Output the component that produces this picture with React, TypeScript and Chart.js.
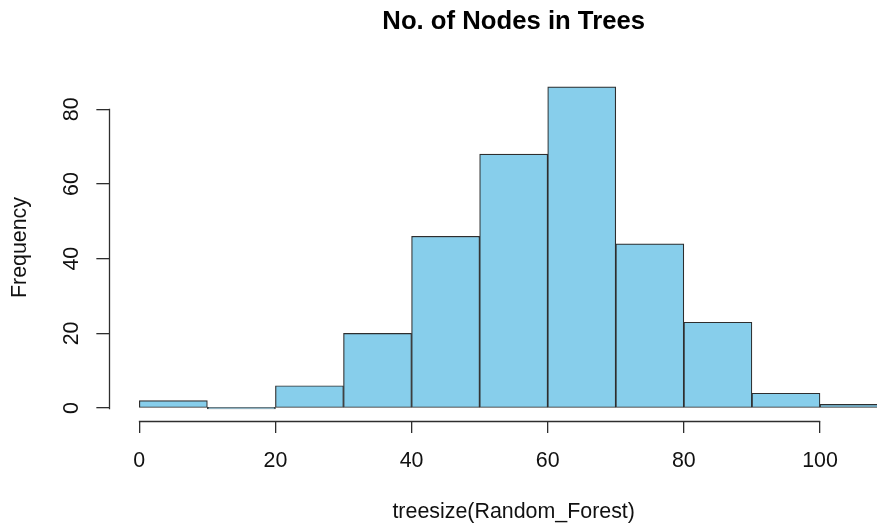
import React, { useEffect, useRef } from "react";
import { Chart, registerables } from "chart.js";

Chart.register(...registerables);

// ---- data ----
const binEdges = [0, 10, 20, 30, 40, 50, 60, 70, 80, 90, 100, 110];
const frequencies = [2, 0, 6, 20, 46, 68, 86, 44, 23, 4, 1];
const xTickValues = [0, 20, 40, 60, 80, 100];
const yTickValues = [0, 20, 40, 60, 80];
const chartTitle = "No. of Nodes in Trees";
const xAxisTitle = "treesize(Random_Forest)";
const yAxisTitle = "Frequency";

const FONT = "'Liberation Sans', Arial, Helvetica, sans-serif";
const INK = "#2e2e2e";
const FILL = "#87CEEB";

const rAxisLines = {
  id: "rAxisLines",
  afterDraw(chart: any) {
    const { ctx, chartArea, scales } = chart;
    const x = scales.x;
    const y = scales.y;
    const align = (p: number) => Math.round(p - 0.5) + 0.5;
    ctx.save();
    ctx.strokeStyle = INK;
    ctx.lineWidth = 1.3;
    ctx.lineCap = "square";
    const yb = align(chartArea.bottom);
    ctx.beginPath();
    ctx.moveTo(align(x.getPixelForValue(xTickValues[0])), yb);
    ctx.lineTo(align(x.getPixelForValue(xTickValues[xTickValues.length - 1])), yb);
    const xl = align(chartArea.left);
    ctx.moveTo(xl, align(y.getPixelForValue(yTickValues[0])));
    ctx.lineTo(xl, align(y.getPixelForValue(yTickValues[yTickValues.length - 1])));
    ctx.stroke();
    ctx.restore();
  },
};

export default function App() {
  const canvasRef = useRef<HTMLCanvasElement | null>(null);

  useEffect(() => {
    if (!canvasRef.current) return;
    const data = frequencies.map((f, i) => ({
      x: (binEdges[i] + binEdges[i + 1]) / 2,
      y: f,
    }));
    const axisFont = { family: FONT, size: 21.4 };
    const chart = new Chart(canvasRef.current, {
      type: "bar",
      data: {
        datasets: [
          {
            data,
            backgroundColor: FILL,
            borderColor: INK,
            borderWidth: 1.2,
            borderSkipped: false,
            minBarLength: 1.5,
            barPercentage: 1,
            categoryPercentage: 1,
          } as any,
        ],
      },
      plugins: [rAxisLines],
      options: {
        responsive: false,
        devicePixelRatio: 1,
        animation: false,
        events: [],
        layout: { padding: { left: 0, top: 0, bottom: 0, right: 82 } },
        plugins: {
          legend: { display: false },
          tooltip: { enabled: false },
          title: {
            display: true,
            text: chartTitle,
            fullSize: false,
            color: "#000",
            font: { family: FONT, size: 25.7, weight: "bold" },
            padding: { top: 6.6, bottom: 36.6 },
          } as any,
        },
        scales: {
          x: {
            type: "linear",
            min: -4.4,
            max: 114.4,
            offset: false,
            afterBuildTicks: (scale: any) => {
              scale.ticks = xTickValues.map((v) => ({ value: v }));
            },
            afterFit: (scale: any) => {
              scale.height = 104;
            },
            grid: {
              display: true,
              offset: false,
              drawOnChartArea: false,
              drawTicks: true,
              tickLength: 12,
              color: INK,
              lineWidth: 1.3,
            },
            border: { display: false },
            ticks: {
              autoSkip: false,
              maxRotation: 0,
              minRotation: 0,
              padding: 15,
              color: "#111",
              font: axisFont,
            },
            title: {
              display: true,
              text: xAxisTitle,
              color: "#111",
              font: axisFont,
              padding: { top: 0, bottom: 0 },
            },
          },
          y: {
            type: "linear",
            min: -3.44,
            max: 89.44,
            afterBuildTicks: (scale: any) => {
              scale.ticks = yTickValues.map((v) => ({ value: v }));
            },
            afterFit: (scale: any) => {
              scale.width = 109.35;
            },
            grid: {
              display: true,
              drawOnChartArea: false,
              drawTicks: true,
              tickLength: 13,
              color: INK,
              lineWidth: 1.3,
            },
            border: { display: false },
            ticks: {
              autoSkip: false,
              minRotation: 90,
              maxRotation: 90,
              crossAlign: "center",
              padding: 12.5,
              color: "#111",
              font: axisFont,
            },
            title: {
              display: true,
              text: yAxisTitle,
              color: "#111",
              font: axisFont,
              padding: { top: 7, bottom: 0 },
            },
          },
        },
      } as any,
    });
    return () => chart.destroy();
  }, []);

  return (
    <div
      style={{
        position: "fixed",
        left: 0,
        top: 0,
        width: 877,
        height: 525,
        overflow: "hidden",
        background: "#fff",
      }}
    >
      <canvas
        ref={canvasRef}
        width={1000}
        height={525}
        style={{ width: 1000, height: 525, display: "block" }}
      />
    </div>
  );
}
